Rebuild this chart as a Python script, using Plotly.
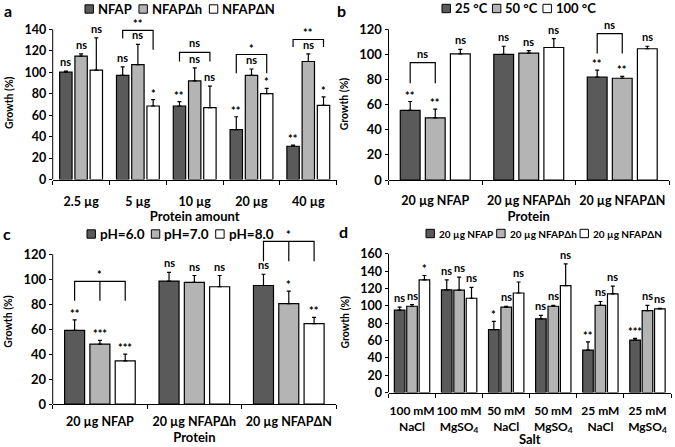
import plotly.graph_objects as go

W, H = 675, 447
FONT = "Lato, 'DejaVu Sans', sans-serif"
COLORS = ["#5a5a5a", "#b4b4b4", "#ffffff"]

# ---------------- panel a : protein amount ----------------
a_cats = ["2.5 µg", "5 µg", "10 µg", "20 µg", "40 µg"]
a_names = ["NFAP", "NFAPΔh", "NFAPΔN"]
a_nfap = [100, 97, 68.5, 46.5, 31]
a_nfap_err = [1, 8, 4, 12, 1]
a_dh = [115, 107, 92, 97, 110]
a_dh_err = [2, 19, 12, 6, 7]
a_dn = [102, 68.5, 67, 80, 69]
a_dn_err = [30, 6, 20, 5, 8]
a_nfap_sig = ["ns", "ns", "**", "**", "**"]
a_dh_sig = ["ns", "ns", "ns", "ns", "ns"]
a_dn_sig = ["ns", "*", "ns", "*", "*"]
# (group, bars joined, top level, leg bottoms, label)
a_brackets = [
    (1, [0, 2], 139, [131.5, 121], "**"),
    (2, [0, 2], 118.5, [110, 110], "ns"),
    (3, [0, 2], 116.5, [99, 99], "*"),
    (4, [0, 2], 130.5, [123.5, 123.5], "**"),
]

# ---------------- panel b : temperature ----------------
b_cats = ["20 µg NFAP", "20 µg NFAPΔh", "20 µg NFAPΔN"]
b_names = ["25 °C", "50 °C", "100 °C"]
b_25 = [55.5, 100, 82]
b_25_err = [7, 6.5, 5.5]
b_50 = [49.5, 101, 81]
b_50_err = [7, 2, 1.5]
b_100 = [100.5, 105.5, 104.5]
b_100_err = [3.5, 7, 2]
b_25_sig = ["**", "ns", "**"]
b_50_sig = ["**", "ns", "**"]
b_100_sig = ["ns", "ns", "ns"]
b_brackets = [
    (0, [0, 1], 93.5, [77, 77], "ns"),
    (2, [0, 1], 116.6, [100.7, 100.7], "ns"),
]

# ---------------- panel c : pH ----------------
c_cats = ["20 µg NFAP", "20 µg NFAPΔh", "20 µg NFAPΔN"]
c_names = ["pH=6.0", "pH=7.0", "pH=8.0"]
c_ph6 = [59, 98.5, 95]
c_ph6_err = [8.5, 7, 9]
c_ph7 = [48, 97.5, 80.5]
c_ph7_err = [3, 5.5, 10]
c_ph8 = [34.5, 94, 64.5]
c_ph8_err = [5.5, 9, 5]
c_ph6_sig = ["**", "ns", "ns"]
c_ph7_sig = ["***", "ns", "*"]
c_ph8_sig = ["***", "ns", "**"]
c_brackets = [
    (0, [0, 1, 2], 98.3, [82.7, 82.7, 82.7], "*"),
    (2, [0, 1, 2], 130.4, [114.4, 114.4, 114.4], "*"),
]

# ---------------- panel d : salt ----------------
d_cats = ["100 mM<br>NaCl", "100 mM<br>MgSO<sub>4</sub>", "50 mM<br>NaCl",
          "50 mM<br>MgSO<sub>4</sub>", "25 mM<br>NaCl", "25 mM<br>MgSO<sub>4</sub>"]
d_names = ["20 µg NFAP", "20 µg NFAPΔh", "20 µg NFAPΔN"]
d_nfap = [95, 118.5, 72.5, 85, 49, 60.5]
d_nfap_err = [3.5, 11.5, 9.5, 4, 9.5, 2]
d_dh = [99.5, 118, 98.4, 99.5, 100.5, 94.5]
d_dh_err = [2, 15, 1, 1, 4.5, 6]
d_dn = [130, 108.7, 114.8, 123.3, 113.7, 96.5]
d_dn_err = [5, 12.5, 12.7, 25, 9, 0.5]
d_nfap_sig = ["ns", "ns", "*", "ns", "**", "***"]
d_dh_sig = ["ns", "ns", "ns", "ns", "ns", "ns"]
d_dn_sig = ["*", "ns", "ns", "ns", "ns", "ns"]
d_brackets = []

fig = go.Figure()
layout = {}
shapes = []
annotations = []

# rough Lato Bold advance widths (em) used only to lay out the legend rows
CHAR_W = {"N": .745, "F": .555, "A": .69, "P": .63, "Δ": .69, "h": .575, " ": .19,
          "µ": .59, "g": .53, "°": .40, "C": .68, "p": .58, "H": .76, "=": .58, ".": .25}


def text_w(s, size):
    return sum(CHAR_W.get(ch, .58) for ch in s) * size


def bold(size):
    return dict(family=FONT, size=size, color="black", weight="bold")


def add_panel(n, cats, series, errs, sigs, names, brackets, xtitle, ytop, ystep,
              geom, fonts, letter, letter_xy, legend):
    left, right, y0px, ytoppx, ymax, pitch, bw = geom
    xtick_fs, ytick_fs, xstand = fonts
    leg_x0, leg_y, leg_fs, leg_gap = legend
    xa = "x" if n == 1 else f"x{n}"
    ya = "y" if n == 1 else f"y{n}"
    ncat = len(cats)
    xs = list(range(ncat))
    centers = [(i - 1) * pitch for i in range(3)]
    for i in range(3):
        fig.add_trace(go.Bar(
            x=xs, y=series[i], name=names[i], xaxis=xa, yaxis=ya,
            width=bw, offset=centers[i] - bw / 2,
            marker=dict(color=COLORS[i], line=dict(color="black", width=1.2)),
            error_y=dict(type="data", array=errs[i], arrayminus=[0] * ncat,
                         symmetric=False, color="black", thickness=1.2, width=2),
            showlegend=False, hoverinfo="skip"))
        for k in xs:
            lab = sigs[i][k]
            annotations.append(dict(
                x=k + centers[i], y=series[i][k] + errs[i][k], xref=xa, yref=ya,
                text=lab, showarrow=False, yanchor="bottom", xanchor="center",
                yshift=1 if lab == "ns" else -2, font=bold(11)))
    for (g, legs, top, bottoms, lab) in brackets:
        lx = [g + centers[j] for j in legs]
        path = f"M{lx[0]},{bottoms[0]} L{lx[0]},{top} L{lx[-1]},{top} L{lx[-1]},{bottoms[-1]}"
        for j in range(1, len(lx) - 1):
            path += f" M{lx[j]},{top} L{lx[j]},{bottoms[j]}"
        shapes.append(dict(type="path", path=path, xref=xa, yref=ya,
                           line=dict(color="black", width=1.2)))
        annotations.append(dict(x=(lx[0] + lx[-1]) / 2, y=top, xref=xa, yref=ya,
                                text=lab, showarrow=False, yanchor="bottom",
                                yshift=1 if lab == "ns" else -2, font=bold(11)))
    unit = (y0px - ytoppx) / ytop
    top_px = y0px - ymax * unit
    xkey = "xaxis" if n == 1 else f"xaxis{n}"
    ykey = "yaxis" if n == 1 else f"yaxis{n}"
    layout[xkey] = dict(
        domain=[left / W, right / W], anchor=ya, range=[-0.5, ncat - 0.5],
        tickvals=xs, ticktext=cats, ticks="", showline=True, linecolor="black",
        linewidth=1, showgrid=False, zeroline=False, tickfont=bold(xtick_fs),
        ticklabelstandoff=xstand, automargin=False, tickangle=0,
        minor=dict(tickvals=[k - 0.5 for k in range(ncat + 1)], ticks="outside",
                   ticklen=4, tickcolor="black", tickwidth=1, showgrid=False),
        title=dict(text=xtitle, font=bold(13), standoff=0), fixedrange=True)
    layout[ykey] = dict(
        domain=[1 - y0px / H, 1 - top_px / H], anchor=xa, range=[0, ymax],
        tickvals=list(range(0, ytop + 1, ystep)), ticks="outside", ticklen=3,
        tickcolor="black", showline=False, showgrid=False, zeroline=False,
        tickfont=bold(ytick_fs), automargin=False,
        title=dict(text="Growth (%)", font=bold(10.5), standoff=8),
        fixedrange=True)
    shapes.append(dict(type="line", xref=f"{xa} domain", yref=ya, x0=0, x1=0,
                       y0=0, y1=ytop, line=dict(color="black", width=1)))
    # panel letter
    annotations.append(dict(x=letter_xy[0] / W, y=1 - letter_xy[1] / H, xref="paper",
                            yref="paper", text=letter, showarrow=False,
                            xanchor="center", yanchor="middle", font=bold(16)))
    # legend row
    s = 8.4
    x = leg_x0
    for i in range(3):
        shapes.append(dict(type="rect", xref="paper", yref="paper",
                           x0=x / W, x1=(x + s) / W,
                           y0=1 - (leg_y + s / 2) / H, y1=1 - (leg_y - s / 2) / H,
                           fillcolor=COLORS[i], line=dict(color="black", width=1)))
        annotations.append(dict(x=(x + s + 2.5) / W, y=1 - leg_y / H,
                                xref="paper", yref="paper", text=names[i],
                                showarrow=False, xanchor="left", yanchor="middle",
                                font=bold(leg_fs)))
        x += s + 2.5 + text_w(names[i], leg_fs) + leg_gap


# geometry: left px, right px, y=0 px, top-tick px, y range max, bar pitch, bar width
add_panel(1, a_cats, [a_nfap, a_dh, a_dn], [a_nfap_err, a_dh_err, a_dn_err],
          [a_nfap_sig, a_dh_sig, a_dn_sig], a_names, a_brackets, "Protein amount",
          140, 20, (52.7, 336.7, 179.5, 29.3, 143, 0.268, 0.218), (12.5, 12.5, 10),
          "a", (7.5, 10), (85, 9, 13, 9))
add_panel(2, b_cats, [b_25, b_50, b_100], [b_25_err, b_50_err, b_100_err],
          [b_25_sig, b_50_sig, b_100_sig], b_names, b_brackets, "Protein",
          120, 20, (388.5, 669, 180, 29.3, 121, 0.268, 0.212), (12.5, 13, 9),
          "b", (341, 10), (442, 8.5, 13, 8))
add_panel(3, c_cats, [c_ph6, c_ph7, c_ph8], [c_ph6_err, c_ph7_err, c_ph8_err],
          [c_ph6_sig, c_ph7_sig, c_ph8_sig], c_names, c_brackets, "Protein",
          120, 20, (52.7, 336, 404, 254.3, 132, 0.268, 0.212), (12.5, 13, 6),
          "c", (7, 233), (87, 234, 13.5, 8.5))
add_panel(4, d_cats, [d_nfap, d_dh, d_dn], [d_nfap_err, d_dh_err, d_dn_err],
          [d_nfap_sig, d_dh_sig, d_dn_sig], d_names, d_brackets, "Salt",
          160, 20, (388.5, 671, 392.5, 253.8, 162, 0.263, 0.225), (12, 12.5, 7),
          "d", (343.5, 232), (426, 233.5, 10, 7))

fig.update_layout(
    template="none",
    width=W, height=H, margin=dict(l=0, r=0, t=0, b=0, autoexpand=False),
    paper_bgcolor="white", plot_bgcolor="white", barmode="overlay",
    showlegend=False, font=dict(family=FONT, color="black"),
    shapes=shapes, annotations=annotations, **layout)

fig.write_html("out.html", config={"displayModeBar": False, "staticPlot": True},
               post_script="document.body.style.margin='0';")
